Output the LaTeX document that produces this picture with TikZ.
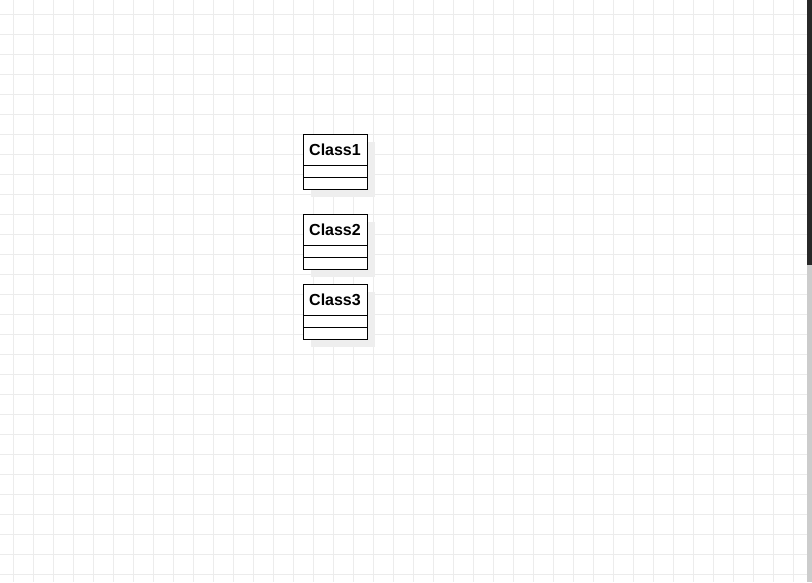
\documentclass[tikz,border=0pt]{standalone}
\usepackage{fontspec}
\setmainfont{Liberation Sans}
\definecolor{gridc}{RGB}{236,236,236}
\definecolor{shadowc}{RGB}{238,238,238}
\definecolor{barc}{RGB}{40,40,40}
\definecolor{trackc}{RGB}{204,204,204}
\begin{document}
\begin{tikzpicture}[x=1pt,y=-1pt,
  classbox/.style={draw=black,line width=1pt,fill=white},
  shadowbox/.style={fill=shadowc,draw=none},
  classname/.style={font=\bfseries\fontsize{16}{18}\selectfont,inner sep=0pt,anchor=center}]
\useasboundingbox (0,0) rectangle (812,582);
\fill[white] (0,0) rectangle (812,582);
% grid
\foreach \x in {13,33,...,813} \draw[gridc,line width=1pt] (\x,0) -- (\x,582);
\foreach \y in {14,34,...,582} \draw[gridc,line width=1pt] (0,\y) -- (812,\y);
% scrollbar
\fill[trackc] (807,0) rectangle (812,582);
\fill[barc] (807,0) rectangle (812,265);
% classes
\foreach \n/\t in {1/134,2/214,3/284}{
  \fill[shadowbox] (311,\t+8) rectangle (375,\t+63);
  \draw[classbox] (303,\t) rectangle (367,\t+55);
  \draw[line width=1pt] (303,\t+31) -- (367,\t+31);
  \draw[line width=1pt] (303,\t+43) -- (367,\t+43);
  \node[classname] (c\n) at (335,\t+15.5) {Class\n};
}
\end{tikzpicture}
\end{document}
